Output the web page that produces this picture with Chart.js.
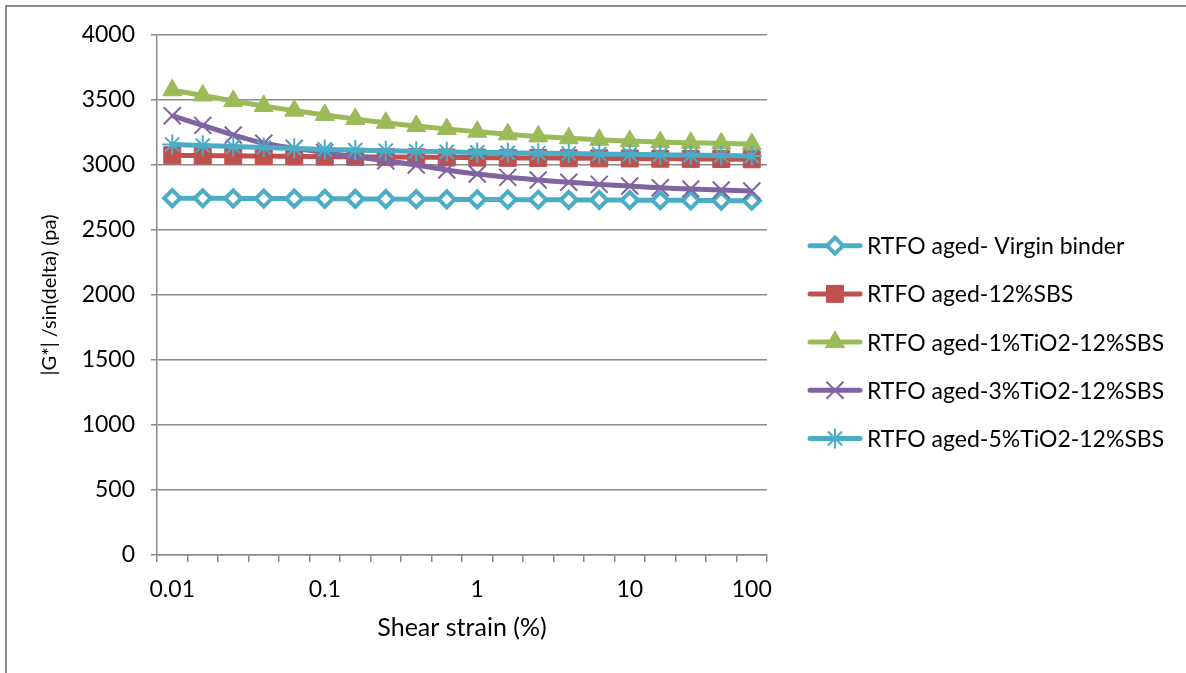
<!DOCTYPE html>
<html>
<head>
<meta charset="utf-8">
<script src="https://cdn.jsdelivr.net/npm/chart.js@4.4.1/dist/chart.umd.min.js"></script>
<style>
  html, body { margin: 0; padding: 0; background: #fff; }
  #wrap { width: 1186px; height: 673px; position: relative; }
</style>
</head>
<body>
<div id="wrap"><canvas id="c" width="1186" height="673"></canvas></div>
<script>
// Categories (shear strain, %) - label shown only at decades
const categories = ['0.01','','','','','0.1','','','','','1','','','','','10','','','','100'];

const seriesNames = [
  'RTFO aged- Virgin binder',
  'RTFO aged-12%SBS',
  'RTFO aged-1%TiO2-12%SBS',
  'RTFO aged-3%TiO2-12%SBS',
  'RTFO aged-5%TiO2-12%SBS'
];

const virgin = [2745, 2744, 2743, 2742, 2741, 2740, 2739, 2738, 2737, 2736, 2735, 2734, 2733, 2732, 2731, 2730, 2729, 2728, 2726, 2725];
const sbs12  = [3075, 3073, 3071, 3069, 3067, 3065, 3063, 3062, 3060, 3058, 3057, 3055, 3054, 3052, 3051, 3050, 3048, 3047, 3046, 3044];
const tio1   = [3575, 3535, 3492, 3454, 3418, 3385, 3354, 3325, 3300, 3277, 3256, 3236, 3220, 3206, 3194, 3185, 3177, 3171, 3166, 3162];
const tio3   = [3379, 3305, 3231, 3167, 3128, 3095, 3064, 3033, 3000, 2962, 2931, 2905, 2885, 2867, 2851, 2838, 2825, 2815, 2808, 2800];
const tio5   = [3158, 3150, 3142, 3135, 3128, 3120, 3115, 3110, 3106, 3101, 3097, 3094, 3091, 3088, 3085, 3082, 3079, 3076, 3073, 3070];

const yTicks = { min: 0, max: 4000, step: 500 };

const FAMILY = 'Lato, "Open Sans", sans-serif';
const FONT = { family: FAMILY, size: 23 };
const YTITLE_FONT = { family: FAMILY, size: 20 };
const XTITLE_FONT = { family: FAMILY, size: 25 };
const GRID = '#8a8a8a';

const styles = [
  { color: '#4BACC6', point: 'rectRot', radius: 8, bw: 4, fill: '#ffffff' },
  { color: '#C0504D', point: 'rect', radius: 12, bw: 1, fill: '#C0504D' },
  { color: '#9BBB59', point: 'triangle', radius: 11, bw: 1, fill: '#9BBB59' },
  { color: '#8064A2', point: 'crossRot', radius: 12, bw: 2, fill: '#8064A2' },
  { color: '#4BACC6', point: 'star', radius: 10, bw: 2, fill: '#4BACC6' }
];
const values = [virgin, sbs12, tio1, tio3, tio5];

const datasets = values.map((v, i) => ({
  label: seriesNames[i],
  data: v,
  borderColor: styles[i].color,
  backgroundColor: styles[i].fill,
  borderWidth: 5,
  tension: 0.3,
  pointStyle: styles[i].point,
  pointRadius: styles[i].radius,
  pointBorderWidth: styles[i].bw,
  pointBackgroundColor: styles[i].fill,
  pointBorderColor: styles[i].color,
  order: 4 - i,
  clip: false
}));

const framePlugin = {
  id: 'frame',
  beforeDraw(chart) {
    const ctx = chart.ctx;
    ctx.save();
    ctx.fillStyle = '#fff';
    ctx.fillRect(0, 0, chart.width, chart.height);
    ctx.strokeStyle = '#898989';
    ctx.lineWidth = 2;
    ctx.beginPath();
    ctx.moveTo(6, chart.height);
    ctx.lineTo(6, 6);
    ctx.lineTo(chart.width, 6);
    ctx.stroke();
    ctx.restore();
  }
};

const legendPlugin = {
  id: 'sideLegend',
  afterDraw(chart) {
    const ctx = chart.ctx;
    ctx.save();
    chart.data.datasets.forEach((ds, i) => {
      const y = 245.7 + i * 48.2;
      ctx.strokeStyle = ds.borderColor;
      ctx.lineWidth = 5;
      ctx.lineCap = 'round';
      ctx.beginPath();
      ctx.moveTo(810, y);
      ctx.lineTo(860, y);
      ctx.stroke();
      ctx.lineCap = 'butt';
      ctx.fillStyle = ds.pointBackgroundColor;
      ctx.strokeStyle = ds.pointBorderColor;
      ctx.lineWidth = ds.pointBorderWidth;
      Chart.helpers.drawPoint(ctx, {
        pointStyle: ds.pointStyle,
        radius: ds.pointRadius,
        borderWidth: ds.pointBorderWidth,
        rotation: 0
      }, 835, y);
      ctx.fillStyle = '#000';
      ctx.font = FONT.size + 'px ' + FONT.family;
      ctx.textAlign = 'left';
      ctx.textBaseline = 'middle';
      ctx.fillText(ds.label, 867, y + 1);
    });
    ctx.restore();
  }
};

new Chart(document.getElementById('c'), {
  type: 'line',
  data: { labels: categories, datasets },
  plugins: [framePlugin, legendPlugin],
  options: {
    responsive: false,
    animation: false,
    layout: { padding: { top: 35, right: 419, left: 0, bottom: 0 } },
    plugins: { legend: { display: false }, tooltip: { enabled: false } },
    scales: {
      x: {
        type: 'category',
        offset: true,
        grid: { offset: true, drawOnChartArea: false, drawTicks: true, tickLength: 7, color: GRID, lineWidth: 1.5 },
        border: { color: GRID, width: 1.5 },
        ticks: { autoSkip: false, maxRotation: 0, minRotation: 0, padding: 14, font: FONT, color: '#000' },
        title: { display: true, text: 'Shear strain (%)', font: XTITLE_FONT, color: '#000', padding: { top: 0, bottom: 30 } },
        afterFit(s) { s.height = 118; }
      },
      y: {
        min: yTicks.min,
        max: yTicks.max,
        ticks: { stepSize: yTicks.step, padding: 16, font: FONT, color: '#000', callback: v => String(v) },
        grid: { color: GRID, lineWidth: 1.5, tickLength: 6 },
        border: { color: GRID, width: 1.5 },
        title: { display: true, text: '|G*| /sin(delta) (pa)', font: YTITLE_FONT, color: '#000', padding: { top: 38, bottom: 0 } },
        afterFit(s) { s.width = 157; }
      }
    }
  }
});
</script>
</body>
</html>
